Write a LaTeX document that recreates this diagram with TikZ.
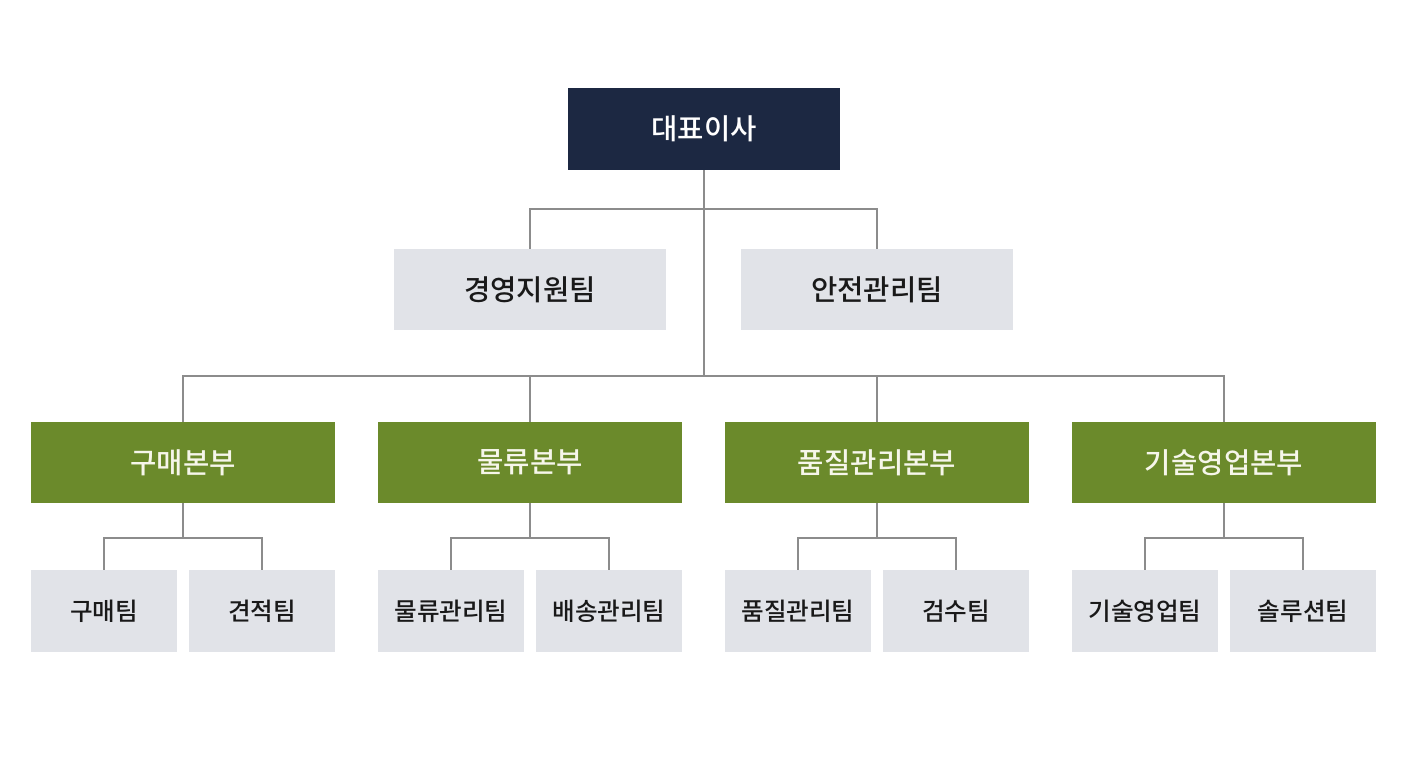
\documentclass[tikz,border=0pt]{standalone}
\usepackage{fontspec}
\setmainfont{Noto Sans CJK KR Medium}
\usepackage{tikz}
\usetikzlibrary{calc}

\definecolor{ceoNavy}{HTML}{1C2842}
\definecolor{divGreen}{HTML}{6B8A2B}
\definecolor{teamGray}{HTML}{E1E3E8}
\definecolor{linkGray}{HTML}{8C8C8C}
\definecolor{divText}{HTML}{F6F6EA}

\begin{document}
\begin{tikzpicture}[x=0.02cm, y=-0.02cm]
        \tikzset{ceobox/.style={fill=ceoNavy, text=white, minimum width=5.44cm, minimum height=1.64cm, inner sep=0pt, font=\fontsize{16.3}{18}\selectfont},
                 staffbox/.style={fill=teamGray, text=black!90, minimum width=5.44cm, minimum height=1.62cm, inner sep=0pt, font=\fontsize{16.3}{18}\selectfont},
                 divbox/.style={fill=divGreen, text=divText, minimum width=6.08cm, minimum height=1.62cm, inner sep=0pt, font=\fontsize{16.3}{18}\selectfont},
                 teambox/.style={fill=teamGray, text=black!90, minimum width=2.92cm, minimum height=1.64cm, inner sep=0pt, font=\fontsize{14}{16}\selectfont},
                 link/.style={draw=linkGray, line width=1pt}}
        \useasboundingbox[fill=white] (0,0) rectangle (1408,768);

        % top and staff
        \node[ceobox] (ceo) at (704,129) {대표이사};
        \node[staffbox] (mgmt) at (530,289.5) {경영지원팀};
        \node[staffbox] (safety) at (877,289.5) {안전관리팀};

        % divisions
        \node[divbox] (buy) at (183,462.5) {구매본부};
        \node[divbox] (logi) at (530,462.5) {물류본부};
        \node[divbox] (qual) at (877,462.5) {품질관리본부};
        \node[divbox] (tech) at (1224,462.5) {기술영업본부};

        % teams
        \node[teambox] (buyteam) at (104,611) {구매팀};
        \node[teambox] (quote) at (262,611) {견적팀};
        \node[teambox] (logiteam) at (451,611) {물류관리팀};
        \node[teambox] (ship) at (609,611) {배송관리팀};
        \node[teambox] (qualteam) at (798,611) {품질관리팀};
        \node[teambox] (inspect) at (956,611) {검수팀};
        \node[teambox] (techteam) at (1145,611) {기술영업팀};
        \node[teambox] (solution) at (1303,611) {솔루션팀};

        % junctions
        \coordinate (staffbus) at (704,209);
        \coordinate (divbus) at (704,376);
        \coordinate (buybus) at (183,538);
        \coordinate (logibus) at (530,538);
        \coordinate (qualbus) at (877,538);
        \coordinate (techbus) at (1224,538);

        \draw[link] (ceo.south) -- (divbus);
        \draw[link] (mgmt.north) |- (staffbus) -| (safety.north);
        \draw[link] (buy.north) |- (divbus) -| (tech.north);
        \draw[link] (logi.north) -- (logi.north |- divbus);
        \draw[link] (qual.north) -- (qual.north |- divbus);

        \draw[link] (buy.south) -- (buybus);
        \draw[link] (buyteam.north) |- (buybus) -| (quote.north);
        \draw[link] (logi.south) -- (logibus);
        \draw[link] (logiteam.north) |- (logibus) -| (ship.north);
        \draw[link] (qual.south) -- (qualbus);
        \draw[link] (qualteam.north) |- (qualbus) -| (inspect.north);
        \draw[link] (tech.south) -- (techbus);
        \draw[link] (techteam.north) |- (techbus) -| (solution.north);
\end{tikzpicture}
\end{document}
